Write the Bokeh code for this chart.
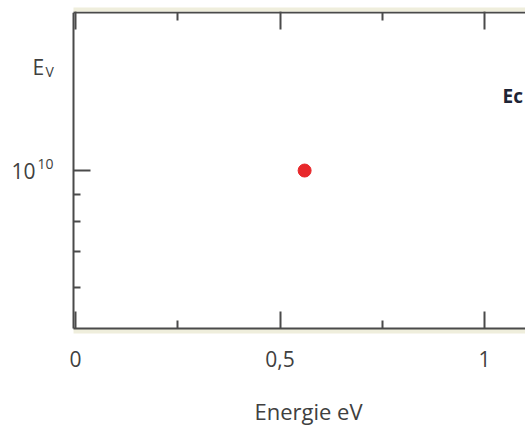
from bokeh.plotting import figure
from bokeh.models import (Range1d, LinearAxis, LogAxis, FixedTicker, Label, LogScale,
                          BoxAnnotation)
from bokeh.embed import file_html
from bokeh.resources import INLINE

# ---- data ----
point_energy = [0.56]          # eV
point_density = [1e10]
x_major = [0, 0.5, 1]
x_minor = [0.25, 0.75]
x_labels = ["0", "0,5", "1"]
y_major = [1e10]
y_minor = [6e9, 7e9, 8e9, 9e9]
y_major_base = "10"
y_major_exp = "10"
x_title = "Energie eV"
left_title = ("E", "V")
right_title = "Ec"

# ---- view / styles ----
x_box = (-0.005, 1.1)          # visible extent of the box
y_box = (5e9, 2e10)
x_view = (-0.1835, 1.1)        # frame extends left / down to hold the outside texts
y_view = (3.24e9, 2e10)
dark = "#4a4a4a"
beige = "#efeedc"
txt = "#404040"
font = "Open Sans"

p = figure(width=525, height=427, output_backend="svg", toolbar_location=None,
           x_range=Range1d(*x_view), y_range=Range1d(*y_view),
           y_axis_type="log", x_axis_location=None, y_axis_location=None,
           min_border_left=0, min_border_top=12, min_border_bottom=0,
           min_border_right=0)
p.y_scale = LogScale()
p.outline_line_color = None
p.xgrid.visible = False
p.ygrid.visible = False
p.background_fill_color = "white"
p.border_fill_color = "white"

def tick_style(ax):
    ax.axis_line_color = dark
    ax.axis_line_width = 2
    ax.major_tick_line_color = dark
    ax.major_tick_line_width = 2
    ax.minor_tick_line_color = dark
    ax.minor_tick_line_width = 2
    ax.major_tick_out = 0
    ax.minor_tick_out = 0

# beige shadow under the bottom edge of the box
p.add_layout(BoxAnnotation(left=x_box[0], right=x_box[1], top=y_box[0],
                           top_units="data", bottom=94, bottom_units="screen",
                           fill_color=beige, fill_alpha=1, line_color=None,
                           level="underlay"))

# bottom axis, fixed at the bottom edge of the box
bt = LinearAxis(ticker=FixedTicker(ticks=x_major, minor_ticks=x_minor), bounds=x_box,
                fixed_location=y_box[0],
                major_label_overrides=dict(zip(x_major, x_labels)))
tick_style(bt)
bt.major_tick_in = 17
bt.minor_tick_in = 8
bt.major_label_standoff = 22
bt.major_label_text_font = font
bt.major_label_text_font_size = "21px"
bt.major_label_text_color = txt
p.add_layout(bt, "below")

# x title
p.add_layout(Label(x=308, y=17, x_units="screen", y_units="screen",
                   text=x_title, text_font=font, text_font_size="22px",
                   text_color=txt, text_align="center",
                   text_baseline="middle"))

# top: ticks, shadow (outside the frame)
tt = LinearAxis(ticker=FixedTicker(ticks=x_major, minor_ticks=x_minor), bounds=x_box)
tick_style(tt)
tt.major_tick_in = 17
tt.minor_tick_in = 8
tt.major_tick_out = 3
tt.major_label_overrides = {t: "" for t in x_major}
tt.major_label_text_font_size = "1px"
tt.major_label_standoff = 0
p.add_layout(tt, "above")
ts = LinearAxis(ticker=FixedTicker(ticks=[]), bounds=x_box)
ts.axis_line_color = beige
ts.axis_line_width = 4
ts.major_tick_line_color = None
ts.minor_tick_line_color = None
ts.major_label_standoff = 0
p.add_layout(ts, "above")

# left axis, fixed at the left edge of the box
la = LogAxis(ticker=FixedTicker(ticks=y_major, minor_ticks=y_minor),
             major_label_overrides={y_major[0]: y_major_base},
             fixed_location=x_box[0], bounds=y_box)
tick_style(la)
la.major_tick_in = 17
la.minor_tick_in = 7
la.major_label_standoff = 38
la.major_label_text_font = font
la.major_label_text_font_size = "21px"
la.major_label_text_color = txt
p.add_layout(la, "left")

# exponent of the y tick label (screen units are relative to the frame)
p.add_layout(Label(x=37, y=y_major[0], x_units="screen", y_units="data",
                   text=y_major_exp, text_font=font, text_font_size="14px",
                   text_color=txt, text_baseline="middle", y_offset=7))

# E_V title
p.add_layout(Label(x=32, y=361, x_units="screen", y_units="screen",
                   text=left_title[0], text_font=font, text_font_size="21px",
                   text_color=txt, text_baseline="middle"))
p.add_layout(Label(x=45, y=356, x_units="screen", y_units="screen",
                   text=left_title[1], text_font=font, text_font_size="14px",
                   text_color=txt, text_baseline="middle"))
# Ec
p.add_layout(Label(x=502, y=332, x_units="screen", y_units="screen",
                   text=right_title, text_font=font, text_font_size="19px",
                   text_font_style="bold", text_color="#1e2536",
                   text_baseline="middle"))

p.scatter(point_energy, point_density, size=13, color="#e8282b")

open("out.html", "w").write(file_html(p, INLINE))
